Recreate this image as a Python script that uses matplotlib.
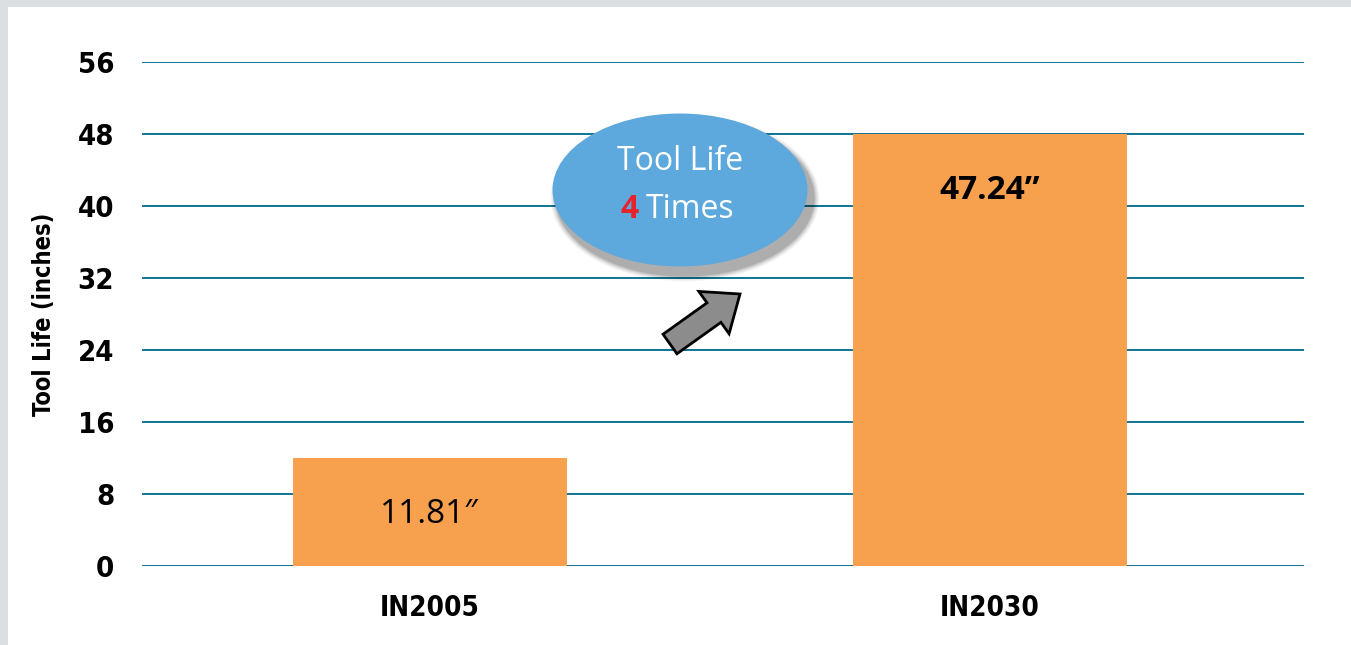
import matplotlib
matplotlib.use("Agg")
import matplotlib.pyplot as plt
from matplotlib.patches import Ellipse, FancyArrow, Rectangle
from matplotlib.transforms import IdentityTransform
from matplotlib import font_manager

categories = ["IN2005", "IN2030"]
bar_heights = [12, 48]
value_labels = ["11.81\u2033", "47.24\u201D"]
label_weights = ["normal", "bold"]
y_ticks = [0, 8, 16, 24, 32, 40, 48, 56]

names = {f.name for f in font_manager.fontManager.ttflist}
body = ["Open Sans", "DejaVu Sans"] if "Open Sans" in names else ["DejaVu Sans"]
cond_kw = dict(fontfamily="DejaVu Sans", fontstretch="condensed", fontweight="bold")

W, H = 1351, 645
fig = plt.figure(figsize=(W / 100, H / 100), dpi=100)
fig.patch.set_facecolor("#dcdfe2")
fig.add_artist(Rectangle((8 / W, 0), 1, 1 - 7 / H, transform=fig.transFigure,
                         facecolor="white", edgecolor="none", zorder=0))

ax = fig.add_axes([142 / W, 1 - 566 / H, (1304 - 142) / W, (566 - 62) / H])
ax.set_facecolor("none")
x = list(range(len(categories)))
ax.bar(x, bar_heights, width=0.489, color="#F7A14F", zorder=2)
ax.set_xlim(-0.514, 1.561)
ax.set_ylim(0, 56)
ax.set_yticks(y_ticks)
ax.yaxis.grid(True, color="#0E7493", linewidth=1.4, zorder=1)
ax.set_axisbelow(True)
for s in ax.spines.values():
    s.set_visible(False)
ax.tick_params(axis="both", length=0)
ax.tick_params(axis="y", pad=20)
ax.tick_params(axis="x", pad=20)
ax.set_xticks(x)
ax.set_xticklabels(categories, fontsize=20, **cond_kw)
for t in ax.get_yticklabels():
    t.set_fontsize(21)
    t.set_fontfamily("DejaVu Sans")
    t.set_fontstretch("condensed")
    t.set_fontweight("bold")
ax.set_ylabel("Tool Life (inches)", fontsize=17, **cond_kw)
ax.yaxis.set_label_coords(-0.074, 0.5)

for xi, h, lab, w in zip(x, bar_heights, value_labels, label_weights):
    ax.text(xi, h - 6.3, lab, ha="center", va="center", fontsize=24,
            fontfamily=body, fontweight=w, color="black", zorder=3)

# bubble with soft shadow
cx, cy, ew, eh = 680, H - 190, 255, 153
for i, a in enumerate([0.03, 0.04, 0.05, 0.06, 0.08, 0.10]):
    grow = 14 - 2 * i
    fig.add_artist(Ellipse((cx + 5, cy - 8), ew + grow, eh + grow, transform=IdentityTransform(),
                           facecolor="black", alpha=a, edgecolor="none", zorder=4))
fig.add_artist(Ellipse((cx, cy), ew, eh, transform=IdentityTransform(),
                       facecolor="#5DA8DC", edgecolor="none", zorder=5))
fig.text(680 / W, 1 - 162 / H, "Tool Life", color="white", fontsize=23, fontfamily=body,
         ha="center", va="center", zorder=6)
fig.text(630 / W, 1 - 210 / H, "4", color="#E8222A", fontsize=23, fontfamily=body,
         fontweight="bold", ha="center", va="center", zorder=6)
fig.text(646 / W, 1 - 210 / H, "Times", color="white", fontsize=23, fontfamily=body,
         ha="left", va="center", zorder=6)

fig.add_artist(FancyArrow(670, H - 344, 70, 50, width=24, head_width=52, head_length=32,
                          length_includes_head=True, facecolor="#8C8C8C", edgecolor="black",
                          linewidth=2, transform=IdentityTransform(), zorder=6))

fig.savefig("out.png", dpi=100, facecolor=fig.get_facecolor())
